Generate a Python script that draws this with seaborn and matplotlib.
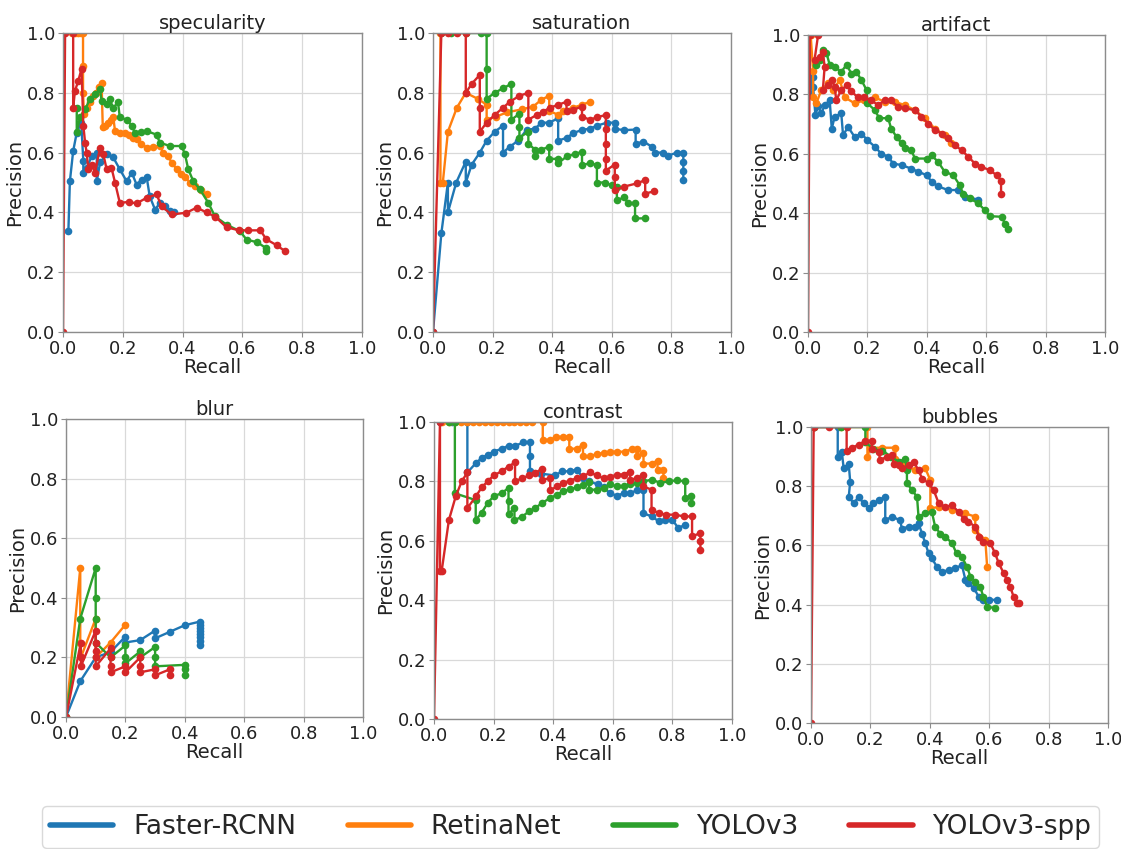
import matplotlib
matplotlib.use("Agg")
import matplotlib.pyplot as plt
from matplotlib.lines import Line2D
import seaborn as sns
import pandas as pd

# ---------------- data ----------------
models = ["Faster-RCNN", "RetinaNet", "YOLOv3", "YOLOv3-spp"]
colors = ["#1f77b4", "#ff7f0e", "#2ca02c", "#d62728"]
panels = ["specularity", "saturation", "artifact", "blur", "contrast", "bubbles"]
ticks = [0.0, 0.2, 0.4, 0.6, 0.8, 1.0]

# specularity
spec_frcnn_r = [0.018, 0.023, 0.034, 0.046, 0.061, 0.068, 0.068, 0.08, 0.096, 0.113, 0.113, 0.124, 0.146, 0.168, 0.19, 0.213, 0.23, 0.246, 0.263, 0.28, 0.29, 0.308, 0.324, 0.34, 0.358, 0.37]
spec_frcnn_p = [0.337, 0.504, 0.605, 0.667, 0.70, 0.571, 0.532, 0.55, 0.588, 0.60, 0.504, 0.567, 0.594, 0.584, 0.544, 0.504, 0.533, 0.493, 0.51, 0.517, 0.454, 0.409, 0.432, 0.42, 0.404, 0.40]
spec_retina_r = [0.03, 0.04, 0.05, 0.061, 0.067, 0.067, 0.067, 0.07, 0.08, 0.09, 0.1, 0.11, 0.12, 0.129, 0.133, 0.14, 0.15, 0.16, 0.168, 0.174, 0.19, 0.207, 0.22, 0.235, 0.246, 0.26, 0.28, 0.3, 0.324, 0.335, 0.351, 0.365, 0.38, 0.395, 0.408, 0.425, 0.441, 0.46, 0.48]
spec_retina_p = [1.0, 1.0, 1.0, 1.0, 1.0, 0.89, 0.8, 0.73, 0.75, 0.77, 0.79, 0.80, 0.82, 0.834, 0.685, 0.69, 0.70, 0.71, 0.72, 0.672, 0.665, 0.667, 0.66, 0.65, 0.644, 0.63, 0.617, 0.62, 0.622, 0.60, 0.588, 0.565, 0.544, 0.53, 0.517, 0.50, 0.488, 0.475, 0.46]
spec_yolo_r = [0.046, 0.046, 0.057, 0.074, 0.09, 0.107, 0.124, 0.129, 0.146, 0.156, 0.168, 0.184, 0.19, 0.213, 0.23, 0.24, 0.26, 0.28, 0.313, 0.324, 0.358, 0.397, 0.408, 0.419, 0.436, 0.458, 0.486, 0.508, 0.547, 0.592, 0.614, 0.65, 0.68, 0.68]
spec_yolo_p = [0.75, 0.67, 0.718, 0.745, 0.778, 0.795, 0.812, 0.773, 0.762, 0.778, 0.75, 0.768, 0.718, 0.71, 0.69, 0.667, 0.67, 0.672, 0.66, 0.633, 0.622, 0.622, 0.594, 0.544, 0.504, 0.477, 0.432, 0.387, 0.359, 0.337, 0.309, 0.30, 0.28, 0.27]
spec_spp_r = [0.0, 0.007, 0.034, 0.034, 0.04, 0.051, 0.062, 0.068, 0.074, 0.079, 0.085, 0.096, 0.107, 0.124, 0.135, 0.146, 0.162, 0.174, 0.19, 0.22, 0.246, 0.28, 0.313, 0.33, 0.363, 0.413, 0.447, 0.48, 0.51, 0.547, 0.59, 0.62, 0.66, 0.68, 0.715, 0.743]
spec_spp_p = [0.0, 1.0, 1.0, 0.75, 0.806, 0.84, 0.88, 0.69, 0.633, 0.60, 0.544, 0.56, 0.533, 0.617, 0.594, 0.544, 0.55, 0.50, 0.432, 0.435, 0.43, 0.449, 0.46, 0.42, 0.393, 0.399, 0.416, 0.40, 0.385, 0.35, 0.34, 0.34, 0.34, 0.31, 0.29, 0.27]

# saturation
sat_frcnn_r = [0.0, 0.028, 0.05, 0.05, 0.078, 0.11, 0.11, 0.13, 0.157, 0.18, 0.207, 0.235, 0.235, 0.258, 0.286, 0.314, 0.342, 0.364, 0.39, 0.42, 0.42, 0.45, 0.47, 0.50, 0.527, 0.55, 0.583, 0.61, 0.61, 0.64, 0.68, 0.68, 0.706, 0.734, 0.745, 0.773, 0.79, 0.818, 0.84, 0.84, 0.84, 0.84]
sat_frcnn_p = [0.0, 0.33, 0.5, 0.4, 0.5, 0.57, 0.5, 0.56, 0.60, 0.64, 0.67, 0.69, 0.60, 0.62, 0.64, 0.676, 0.68, 0.70, 0.70, 0.715, 0.64, 0.65, 0.665, 0.676, 0.68, 0.69, 0.70, 0.70, 0.68, 0.675, 0.677, 0.63, 0.637, 0.62, 0.60, 0.60, 0.59, 0.60, 0.60, 0.57, 0.54, 0.51]
sat_retina_r = [0.025, 0.025, 0.033, 0.05, 0.08, 0.11, 0.15, 0.18, 0.18, 0.21, 0.25, 0.30, 0.336, 0.364, 0.39, 0.39, 0.42, 0.437, 0.47, 0.50, 0.527]
sat_retina_p = [1.0, 0.5, 0.5, 0.67, 0.75, 0.80, 0.78, 0.76, 0.71, 0.72, 0.735, 0.745, 0.754, 0.777, 0.79, 0.74, 0.726, 0.74, 0.75, 0.76, 0.77]
sat_yolo_r = [0.028, 0.06, 0.11, 0.16, 0.18, 0.18, 0.18, 0.207, 0.235, 0.263, 0.263, 0.29, 0.29, 0.29, 0.32, 0.32, 0.342, 0.342, 0.364, 0.39, 0.39, 0.42, 0.42, 0.448, 0.476, 0.50, 0.50, 0.527, 0.55, 0.55, 0.577, 0.60, 0.617, 0.617, 0.64, 0.656, 0.678, 0.678, 0.712]
sat_yolo_p = [1.0, 1.0, 1.0, 1.0, 1.0, 0.88, 0.78, 0.80, 0.815, 0.83, 0.71, 0.73, 0.687, 0.65, 0.67, 0.63, 0.61, 0.59, 0.61, 0.62, 0.578, 0.58, 0.564, 0.587, 0.595, 0.603, 0.559, 0.564, 0.559, 0.50, 0.50, 0.49, 0.486, 0.44, 0.45, 0.43, 0.43, 0.38, 0.38]
sat_spp_r = [0.0, 0.028, 0.05, 0.08, 0.11, 0.11, 0.13, 0.157, 0.157, 0.157, 0.18, 0.207, 0.235, 0.258, 0.29, 0.32, 0.32, 0.348, 0.37, 0.392, 0.42, 0.448, 0.448, 0.47, 0.50, 0.50, 0.527, 0.55, 0.58, 0.58, 0.58, 0.58, 0.58, 0.61, 0.61, 0.61, 0.64, 0.684, 0.712, 0.712, 0.74]
sat_spp_p = [0.0, 1.0, 1.0, 1.0, 1.0, 0.80, 0.83, 0.86, 0.75, 0.67, 0.70, 0.726, 0.75, 0.77, 0.79, 0.80, 0.71, 0.726, 0.737, 0.75, 0.76, 0.77, 0.74, 0.743, 0.754, 0.72, 0.71, 0.718, 0.726, 0.68, 0.63, 0.58, 0.54, 0.56, 0.52, 0.475, 0.486, 0.497, 0.508, 0.463, 0.47]

# artifact
art_frcnn_r = [0.006, 0.006, 0.017, 0.017, 0.025, 0.034, 0.045, 0.056, 0.073, 0.08, 0.09, 0.112, 0.118, 0.135, 0.157, 0.18, 0.20, 0.225, 0.247, 0.27, 0.287, 0.315, 0.348, 0.37, 0.40, 0.416, 0.438, 0.472, 0.505, 0.528, 0.573]
art_frcnn_p = [1.0, 0.80, 0.86, 0.825, 0.73, 0.76, 0.736, 0.764, 0.78, 0.685, 0.725, 0.736, 0.663, 0.69, 0.657, 0.668, 0.646, 0.624, 0.60, 0.59, 0.567, 0.562, 0.55, 0.54, 0.528, 0.506, 0.49, 0.478, 0.478, 0.455, 0.446]
art_retina_r = [0.009, 0.017, 0.017, 0.028, 0.045, 0.067, 0.084, 0.107, 0.124, 0.157, 0.19, 0.225, 0.258, 0.292, 0.326, 0.36, 0.393, 0.427, 0.46, 0.483]
art_retina_p = [1.0, 0.88, 0.79, 0.77, 0.815, 0.837, 0.815, 0.848, 0.79, 0.77, 0.78, 0.79, 0.775, 0.775, 0.764, 0.747, 0.72, 0.685, 0.663, 0.635]
art_yolo_r = [0.028, 0.04, 0.05, 0.062, 0.073, 0.09, 0.112, 0.13, 0.146, 0.163, 0.18, 0.197, 0.20, 0.225, 0.24, 0.27, 0.28, 0.298, 0.315, 0.326, 0.348, 0.36, 0.40, 0.416, 0.438, 0.46, 0.489, 0.511, 0.522, 0.545, 0.573, 0.596, 0.612, 0.652, 0.663, 0.674]
art_yolo_p = [0.90, 0.916, 0.95, 0.94, 0.90, 0.893, 0.876, 0.90, 0.87, 0.876, 0.848, 0.815, 0.77, 0.747, 0.72, 0.72, 0.685, 0.657, 0.635, 0.618, 0.612, 0.584, 0.584, 0.595, 0.573, 0.54, 0.528, 0.494, 0.466, 0.45, 0.433, 0.41, 0.39, 0.388, 0.365, 0.348]
art_spp_r = [0.0, 0.006, 0.034, 0.022, 0.04, 0.05, 0.056, 0.05, 0.067, 0.08, 0.09, 0.095, 0.112, 0.13, 0.146, 0.168, 0.19, 0.213, 0.236, 0.258, 0.28, 0.303, 0.326, 0.36, 0.382, 0.404, 0.427, 0.45, 0.472, 0.494, 0.517, 0.54, 0.562, 0.584, 0.612, 0.635, 0.65, 0.65]
art_spp_p = [0.0, 1.0, 1.0, 0.916, 0.927, 0.944, 0.893, 0.815, 0.83, 0.848, 0.826, 0.78, 0.815, 0.83, 0.81, 0.79, 0.79, 0.78, 0.764, 0.78, 0.78, 0.758, 0.753, 0.747, 0.725, 0.702, 0.68, 0.668, 0.652, 0.63, 0.612, 0.59, 0.567, 0.556, 0.545, 0.528, 0.51, 0.466]

# blur
blur_frcnn_r = [0.0, 0.048, 0.10, 0.15, 0.20, 0.20, 0.25, 0.30, 0.30, 0.35, 0.40, 0.45, 0.45, 0.45, 0.45, 0.45, 0.45, 0.45, 0.45]
blur_frcnn_p = [0.0, 0.12, 0.20, 0.218, 0.27, 0.25, 0.258, 0.29, 0.264, 0.286, 0.308, 0.32, 0.31, 0.30, 0.29, 0.28, 0.27, 0.255, 0.24]
blur_retina_r = [0.0, 0.048, 0.048, 0.05, 0.10, 0.10, 0.15, 0.20]
blur_retina_p = [0.0, 0.50, 0.25, 0.20, 0.33, 0.20, 0.25, 0.31]
blur_yolo_r = [0.0, 0.048, 0.10, 0.10, 0.10, 0.10, 0.15, 0.20, 0.20, 0.20, 0.25, 0.25, 0.30, 0.30, 0.30, 0.40, 0.40, 0.40]
blur_yolo_p = [0.0, 0.33, 0.50, 0.40, 0.33, 0.25, 0.20, 0.24, 0.20, 0.18, 0.22, 0.20, 0.235, 0.20, 0.17, 0.175, 0.16, 0.14]
blur_spp_r = [0.0, 0.05, 0.05, 0.05, 0.10, 0.10, 0.10, 0.10, 0.10, 0.15, 0.15, 0.15, 0.15, 0.20, 0.20, 0.25, 0.25, 0.25, 0.30, 0.30, 0.35, 0.35]
blur_spp_p = [0.0, 0.25, 0.20, 0.17, 0.29, 0.25, 0.22, 0.20, 0.17, 0.23, 0.20, 0.17, 0.15, 0.17, 0.15, 0.20, 0.17, 0.15, 0.16, 0.14, 0.16, 0.14]

# contrast
con_frcnn_r = [0.02, 0.06, 0.112, 0.112, 0.141, 0.16, 0.18, 0.20, 0.227, 0.25, 0.272, 0.30, 0.322, 0.322, 0.322, 0.36, 0.406, 0.43, 0.457, 0.48, 0.50, 0.52, 0.55, 0.57, 0.59, 0.614, 0.636, 0.658, 0.68, 0.703, 0.703, 0.73, 0.754, 0.776, 0.80, 0.82, 0.843]
con_frcnn_p = [1.0, 1.0, 1.0, 0.83, 0.862, 0.879, 0.89, 0.90, 0.91, 0.92, 0.92, 0.931, 0.931, 0.884, 0.834, 0.826, 0.82, 0.834, 0.834, 0.84, 0.81, 0.80, 0.79, 0.78, 0.76, 0.752, 0.76, 0.76, 0.77, 0.77, 0.693, 0.682, 0.666, 0.67, 0.67, 0.643, 0.654]
con_retina_r = [0.026, 0.05, 0.07, 0.09, 0.11, 0.13, 0.15, 0.17, 0.19, 0.21, 0.23, 0.25, 0.27, 0.29, 0.31, 0.33, 0.365, 0.365, 0.39, 0.41, 0.434, 0.454, 0.454, 0.48, 0.50, 0.50, 0.524, 0.546, 0.57, 0.59, 0.614, 0.642, 0.664, 0.68, 0.68, 0.703, 0.703, 0.73, 0.75, 0.75, 0.77, 0.77]
con_retina_p = [1.0, 1.0, 1.0, 1.0, 1.0, 1.0, 1.0, 1.0, 1.0, 1.0, 1.0, 1.0, 1.0, 1.0, 1.0, 1.0, 1.0, 0.94, 0.94, 0.95, 0.95, 0.95, 0.91, 0.91, 0.924, 0.884, 0.884, 0.893, 0.895, 0.90, 0.90, 0.90, 0.91, 0.91, 0.884, 0.895, 0.86, 0.86, 0.87, 0.84, 0.84, 0.81]
con_yolo_r = [0.05, 0.07, 0.07, 0.14, 0.14, 0.16, 0.18, 0.20, 0.227, 0.25, 0.25, 0.25, 0.27, 0.27, 0.294, 0.32, 0.34, 0.362, 0.39, 0.412, 0.434, 0.457, 0.48, 0.50, 0.52, 0.52, 0.546, 0.57, 0.59, 0.614, 0.636, 0.658, 0.68, 0.703, 0.73, 0.76, 0.787, 0.815, 0.843, 0.843, 0.862, 0.862]
con_yolo_p = [1.0, 1.0, 0.76, 0.737, 0.67, 0.695, 0.727, 0.75, 0.76, 0.778, 0.733, 0.69, 0.71, 0.67, 0.68, 0.70, 0.71, 0.727, 0.744, 0.755, 0.767, 0.774, 0.78, 0.789, 0.797, 0.772, 0.772, 0.778, 0.79, 0.783, 0.783, 0.79, 0.795, 0.80, 0.806, 0.795, 0.80, 0.804, 0.80, 0.744, 0.752, 0.727]
con_spp_r = [0.0, 0.02, 0.02, 0.026, 0.05, 0.073, 0.093, 0.112, 0.112, 0.141, 0.16, 0.18, 0.20, 0.227, 0.25, 0.272, 0.272, 0.294, 0.32, 0.34, 0.362, 0.362, 0.39, 0.39, 0.412, 0.434, 0.457, 0.48, 0.50, 0.524, 0.546, 0.57, 0.59, 0.614, 0.636, 0.658, 0.658, 0.68, 0.703, 0.703, 0.73, 0.73, 0.754, 0.78, 0.81, 0.838, 0.866, 0.866, 0.894, 0.894, 0.894]
con_spp_p = [0.0, 1.0, 0.5, 0.5, 0.67, 0.75, 0.80, 0.83, 0.71, 0.75, 0.78, 0.80, 0.82, 0.834, 0.85, 0.864, 0.80, 0.81, 0.82, 0.828, 0.843, 0.806, 0.81, 0.77, 0.783, 0.795, 0.803, 0.811, 0.817, 0.83, 0.82, 0.81, 0.815, 0.823, 0.823, 0.833, 0.806, 0.81, 0.823, 0.783, 0.772, 0.705, 0.693, 0.688, 0.688, 0.682, 0.682, 0.615, 0.626, 0.60, 0.57]

# bubbles
bub_frcnn_r = [0.01, 0.09, 0.09, 0.104, 0.11, 0.127, 0.132, 0.127, 0.144, 0.16, 0.177, 0.194, 0.21, 0.228, 0.25, 0.25, 0.273, 0.30, 0.306, 0.329, 0.35, 0.362, 0.374, 0.385, 0.396, 0.407, 0.424, 0.44, 0.463, 0.486, 0.508, 0.52, 0.53, 0.548, 0.565, 0.58, 0.60, 0.626]
bub_frcnn_p = [1.0, 1.0, 0.90, 0.915, 0.86, 0.876, 0.815, 0.764, 0.742, 0.764, 0.742, 0.725, 0.742, 0.753, 0.764, 0.685, 0.697, 0.685, 0.657, 0.663, 0.663, 0.674, 0.64, 0.607, 0.573, 0.556, 0.528, 0.51, 0.517, 0.522, 0.534, 0.483, 0.472, 0.455, 0.427, 0.416, 0.416, 0.416]
bub_retina_r = [0.01, 0.10, 0.19, 0.19, 0.20, 0.24, 0.284, 0.284, 0.31, 0.351, 0.385, 0.402, 0.402, 0.43, 0.475, 0.52, 0.553, 0.553, 0.587, 0.593]
bub_retina_p = [1.0, 1.0, 1.0, 0.90, 0.93, 0.93, 0.93, 0.893, 0.87, 0.854, 0.86, 0.82, 0.725, 0.73, 0.72, 0.708, 0.697, 0.652, 0.618, 0.528]
bub_yolo_r = [0.01, 0.10, 0.183, 0.183, 0.21, 0.24, 0.27, 0.295, 0.318, 0.323, 0.323, 0.34, 0.357, 0.362, 0.385, 0.407, 0.418, 0.435, 0.452, 0.475, 0.49, 0.508, 0.525, 0.537, 0.553, 0.57, 0.58, 0.593, 0.62]
bub_yolo_p = [1.0, 1.0, 1.0, 0.95, 0.925, 0.92, 0.90, 0.882, 0.893, 0.854, 0.81, 0.787, 0.764, 0.697, 0.708, 0.713, 0.663, 0.64, 0.63, 0.607, 0.573, 0.562, 0.528, 0.494, 0.478, 0.46, 0.427, 0.393, 0.388]
bub_spp_r = [0.0, 0.009, 0.06, 0.12, 0.12, 0.138, 0.16, 0.183, 0.205, 0.205, 0.228, 0.233, 0.256, 0.273, 0.278, 0.295, 0.306, 0.329, 0.346, 0.362, 0.374, 0.396, 0.413, 0.43, 0.452, 0.475, 0.497, 0.514, 0.53, 0.553, 0.565, 0.58, 0.604, 0.62, 0.632, 0.649, 0.66, 0.671, 0.682, 0.694, 0.70]
bub_spp_p = [0.0, 1.0, 1.0, 1.0, 0.92, 0.93, 0.94, 0.953, 0.953, 0.927, 0.916, 0.888, 0.90, 0.905, 0.876, 0.87, 0.86, 0.87, 0.882, 0.854, 0.826, 0.81, 0.787, 0.742, 0.73, 0.736, 0.713, 0.69, 0.68, 0.663, 0.63, 0.612, 0.607, 0.573, 0.54, 0.506, 0.483, 0.46, 0.427, 0.407, 0.404]

panel_series = {
    "specularity": [(spec_frcnn_r, spec_frcnn_p), (spec_retina_r, spec_retina_p), (spec_yolo_r, spec_yolo_p), (spec_spp_r, spec_spp_p)],
    "saturation": [(sat_frcnn_r, sat_frcnn_p), (sat_retina_r, sat_retina_p), (sat_yolo_r, sat_yolo_p), (sat_spp_r, sat_spp_p)],
    "artifact": [(art_frcnn_r, art_frcnn_p), (art_retina_r, art_retina_p), (art_yolo_r, art_yolo_p), (art_spp_r, art_spp_p)],
    "blur": [(blur_frcnn_r, blur_frcnn_p), (blur_retina_r, blur_retina_p), (blur_yolo_r, blur_yolo_p), (blur_spp_r, blur_spp_p)],
    "contrast": [(con_frcnn_r, con_frcnn_p), (con_retina_r, con_retina_p), (con_yolo_r, con_yolo_p), (con_spp_r, con_spp_p)],
    "bubbles": [(bub_frcnn_r, bub_frcnn_p), (bub_retina_r, bub_retina_p), (bub_yolo_r, bub_yolo_p), (bub_spp_r, bub_spp_p)],
}

rows = []
for pname in panels:
    for m, (rr, pp) in zip(models, panel_series[pname]):
        assert len(rr) == len(pp), (pname, m, len(rr), len(pp))
        for i, (r, p) in enumerate(zip(rr, pp)):
            rows.append({"panel": pname, "Model": m, "idx": i, "Recall": r, "Precision": p})
df = pd.DataFrame(rows)

# ---------------- plotting ----------------
sns.set_theme(style="whitegrid")
plt.rcParams["font.family"] = ["DejaVu Sans"]

W, H = 1121, 849
fig = plt.figure(figsize=(W / 100, H / 100), dpi=100)
fig.patch.set_facecolor("white")

# axes boxes in pixels: left, top, right, bottom
boxes = [
    (63, 33, 362, 332), (433, 33, 731, 332), (808, 35, 1105, 332),
    (66, 419, 363, 717), (434, 422, 732, 719), (811, 427, 1108, 723),
]
palette = dict(zip(models, colors))

for pname, (l, t, r, b) in zip(panels, boxes):
    ax = fig.add_axes([l / W, 1 - b / H, (r - l) / W, (b - t) / H])
    sub = df[df["panel"] == pname]
    sns.lineplot(data=sub, x="Recall", y="Precision", hue="Model", hue_order=models,
                 palette=palette, units="Model", estimator=None, sort=False,
                 marker="o", markersize=5.5, markeredgewidth=0, linewidth=1.7,
                 legend=False, ax=ax)
    ax.set_xlim(0, 1)
    ax.set_ylim(0, 1)
    ax.set_xticks(ticks)
    ax.set_yticks(ticks)
    ax.set_xticklabels([f"{v:.1f}" for v in ticks])
    ax.set_yticklabels([f"{v:.1f}" for v in ticks])
    ax.set_facecolor("white")
    ax.grid(True, color="#d9d9d9", linewidth=0.9)
    for s in ax.spines.values():
        s.set_color("#8c8c8c")
        s.set_linewidth(1.0)
    ax.tick_params(axis="both", labelsize=13, length=3.5, width=0.8,
                   color="#8c8c8c", pad=2, bottom=True, left=True, labelcolor="#222222")
    ax.set_title(pname, fontsize=14, pad=3, color="#222222")
    ax.set_xlabel("Recall", fontsize=14, labelpad=0, color="#222222")
    ax.set_ylabel("Precision", fontsize=14, labelpad=2, color="#222222")

handles = [Line2D([0], [0], color=c, linewidth=4) for c in colors]
leg = fig.legend(handles, models, loc="upper left",
                 bbox_to_anchor=(42 / W, 1 - 806 / H), ncol=4, fontsize=19,
                 frameon=True, handlelength=2.4, handletextpad=0.75,
                 columnspacing=1.95, borderpad=0.3, borderaxespad=0.0)
leg.get_frame().set_edgecolor("#d0d0d0")
leg.get_frame().set_linewidth(1.0)

fig.savefig("out.png", dpi=100, facecolor="white")
